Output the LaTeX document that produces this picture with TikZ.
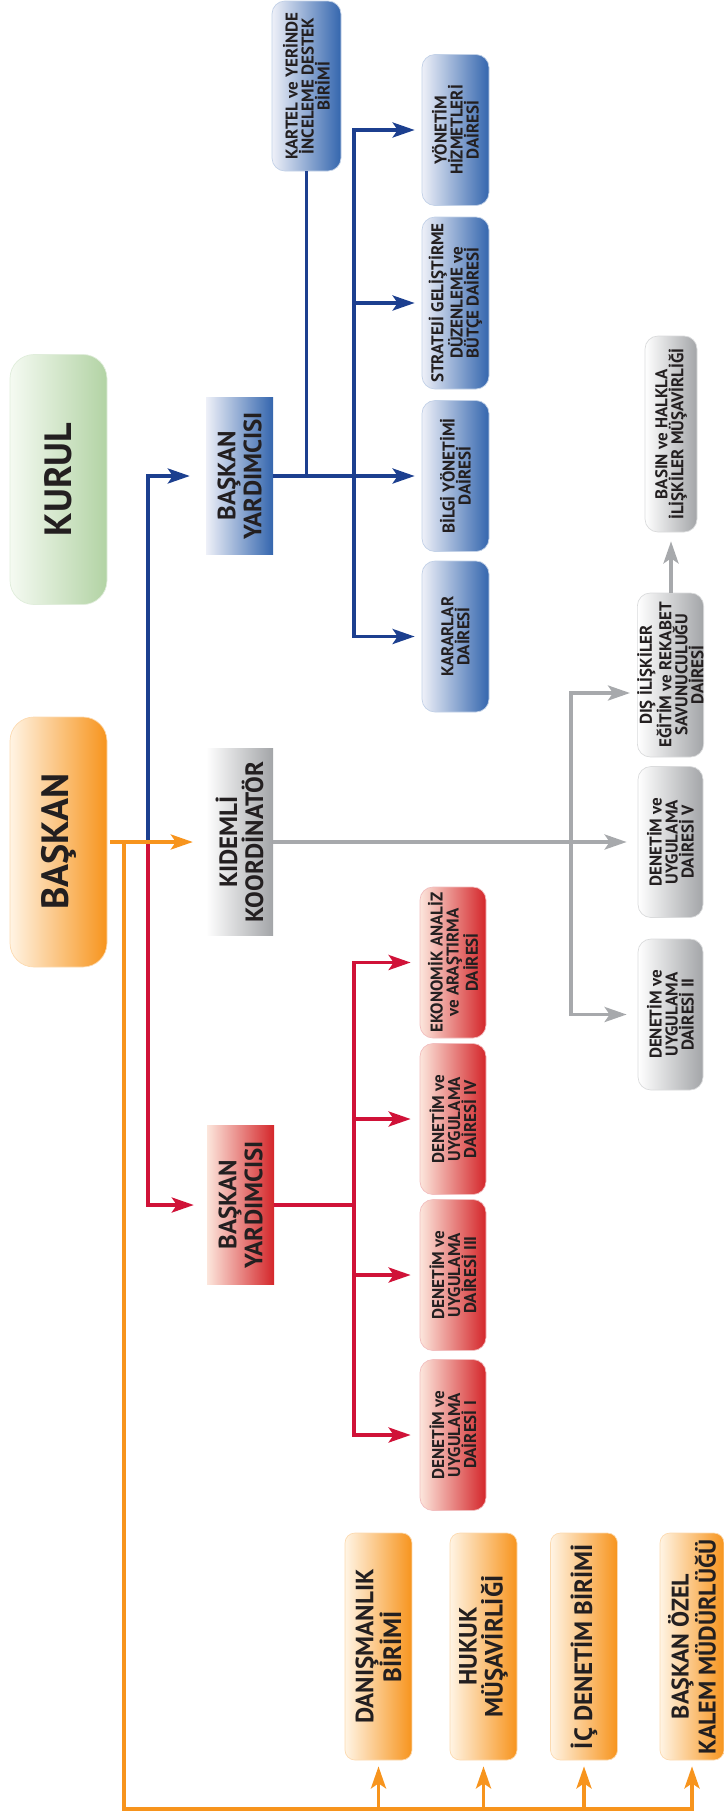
\documentclass[tikz,border=0pt]{standalone}
\usepackage{fontspec}
\setmainfont{PT Sans}
\usetikzlibrary{arrows.meta}

\definecolor{yazi}{HTML}{231F20}
\definecolor{turuncu}{HTML}{F7941D}
\definecolor{turuncuacik}{HTML}{FFF4E4}
\definecolor{mavi}{HTML}{1C3F8F}
\definecolor{mavikoyu}{HTML}{3466AE}
\definecolor{maviacik}{HTML}{EEF0F8}
\definecolor{kirmizi}{HTML}{D01238}
\definecolor{kirmizikoyu}{HTML}{D4262A}
\definecolor{kirmiziacik}{HTML}{FCE6DC}
\definecolor{gri}{HTML}{A7A9AC}
\definecolor{grikoyu}{HTML}{A3A5A8}
\definecolor{yesil}{HTML}{B2D3A4}
\definecolor{yesilacik}{HTML}{F5FAF2}

\newcommand{\buyukyazi}{\fontsize{38}{40}\selectfont\bfseries}
\newcommand{\ortayazi}{\fontsize{25}{26}\selectfont\bfseries}
\newcommand{\kucukyazi}{\fontsize{17}{16}\selectfont\bfseries}

\tikzset{
  cizgi/.style={line width=3.6pt},
  ok/.style={cizgi, -{Stealth[length=22pt,width=15pt,inset=5pt]}},
  kutu/.style={rotate=90, inner sep=0pt, align=center, text=yazi,
    rounded corners=13pt, line width=0.7pt},
  kucuk/.style={minimum width=151pt, minimum height=67pt, font=\kucukyazi},
  mavikutu/.style={kutu, kucuk, left color=maviacik, right color=mavikoyu, draw=mavikoyu!30},
  kirmizikutu/.style={kutu, kucuk, left color=kirmiziacik, right color=kirmizikoyu, draw=kirmizikoyu!30},
  grikutu/.style={kutu, kucuk, left color=white, right color=grikoyu, draw=grikoyu!40},
  turuncukutu/.style={kutu, rounded corners=10pt, minimum width=227pt, minimum height=67pt,
    font=\ortayazi, left color=turuncuacik, right color=turuncu, draw=turuncu!35},
  dikdortgen/.style={rotate=90, inner sep=0pt, align=center, text=yazi,
    minimum height=67pt, font=\ortayazi},
  buyukkutu/.style={kutu, rounded corners=24pt, minimum width=250pt, minimum height=97pt,
    font=\buyukyazi}
}

\begin{document}
\begin{tikzpicture}[x=1pt, y=-1pt]
\useasboundingbox (0,0) rectangle (723,1818);

% ust kademe
\node[buyukkutu, left color=yesilacik, right color=yesil, draw=yesil!40] (kurul) at (58.5,479.5) {KURUL};
\node[buyukkutu, left color=turuncuacik, right color=turuncu, draw=turuncu!35] (baskan) at (58.5,842) {BAŞKAN};

\node[dikdortgen, minimum width=157pt, left color=maviacik, right color=mavikoyu] (bymavi) at (239.5,476) {BAŞKAN\\YARDIMCISI};
\node[dikdortgen, minimum width=187pt, left color=white, right color=grikoyu] (kidemli) at (239.5,842) {KIDEMLİ\\KOORDİNATÖR};
\node[dikdortgen, minimum width=159pt, left color=kirmiziacik, right color=kirmizikoyu] (bykirmizi) at (240.5,1205) {BAŞKAN\\YARDIMCISI};

% mavi daireler
\node[mavikutu, minimum width=170pt, minimum height=69pt] (kartel) at (306.5,86) {KARTEL ve YERİNDE\\İNCELEME DESTEK\\BİRİMİ};
\node[mavikutu] (yonetim) at (455.5,130) {YÖNETİM\\HİZMETLERİ\\DAİRESİ};
\node[mavikutu, minimum width=172pt] (strateji) at (455.5,303) {STRATEJİ GELİŞTİRME\\DÜZENLEME ve\\BÜTÇE DAİRESİ};
\node[mavikutu] (bilgi) at (455.5,476) {BİLGİ YÖNETİMİ\\DAİRESİ};
\node[mavikutu] (kararlar) at (455.5,636.5) {KARARLAR\\DAİRESİ};

% gri daireler
\node[grikutu, minimum width=196pt, minimum height=52pt] (basin) at (671,434) {BASIN ve HALKLA\\İLİŞKİLER MÜŞAVİRLİĞİ};
\node[grikutu, minimum width=164pt, minimum height=65pt] (disil) at (670.5,675) {DIŞ İLİŞKİLER\\EĞİTİM ve REKABET\\SAVUNUCULUĞU\\DAİRESİ};
\node[grikutu, minimum height=65pt] (denv) at (670.5,842) {DENETİM ve\\UYGULAMA\\DAİRESİ V};
\node[grikutu, minimum height=65pt] (denii) at (670.5,1014.5) {DENETİM ve\\UYGULAMA\\DAİRESİ II};

% kirmizi daireler
\node[kirmizikutu, minimum height=66pt] (ekonomik) at (453,962.5) {EKONOMİK ANALİZ\\ve ARAŞTIRMA\\DAİRESİ};
\node[kirmizikutu, minimum height=66pt] (deniv) at (453,1119) {DENETİM ve\\UYGULAMA\\DAİRESİ IV};
\node[kirmizikutu, minimum height=66pt] (deniii) at (453,1275) {DENETİM ve\\UYGULAMA\\DAİRESİ III};
\node[kirmizikutu, minimum height=66pt] (deni) at (453,1435) {DENETİM ve\\UYGULAMA\\DAİRESİ I};

% baskana bagli birimler
\node[turuncukutu] (danisma) at (378.5,1646.5) {DANIŞMANLIK\\BİRİMİ};
\node[turuncukutu] (hukuk) at (483.5,1646.5) {HUKUK\\MÜŞAVİRLİĞİ};
\node[turuncukutu] (icdenetim) at (584,1646.5) {İÇ DENETİM BİRİMİ};
\node[turuncukutu, minimum height=64pt, font=\fontsize{24}{25}\selectfont\bfseries] (ozelkalem) at (692,1646.5) {BAŞKAN ÖZEL\\KALEM MÜDÜRLÜĞÜ};

\coordinate (sol) at (148,842);
\coordinate (sagkol) at (354,842);
\coordinate (grikol) at (571,693);
\coordinate (turuncukol) at (124,842);
\coordinate (turuncualt) at (124,1809);

% baskan yardimcilari
\draw[ok, mavi, shorten >=16pt] (sol) |- (bymavi.north);
\draw[ok, kirmizi, shorten >=13pt] (sol) |- (bykirmizi.north);

% mavi kol
\draw[cizgi, mavi] (kartel.west) -- (kartel.west |- bymavi);
\draw[cizgi, mavi] (bymavi.south) -- (bymavi -| sagkol);
\draw[ok, mavi, shorten >=7pt] (kararlar.north -| sagkol) |- (yonetim.north);
\draw[ok, mavi, shorten >=7pt] (yonetim.north -| sagkol) |- (kararlar.north);
\foreach \k in {strateji,bilgi}
  \draw[ok, mavi, shorten >=7pt] (\k.north -| sagkol) -- (\k.north);

% kirmizi kol
\draw[cizgi, kirmizi] (bykirmizi.south) -- (bykirmizi -| sagkol);
\draw[ok, kirmizi, shorten >=9pt] (deni.north -| sagkol) |- (ekonomik.north);
\draw[ok, kirmizi, shorten >=9pt] (ekonomik.north -| sagkol) |- (deni.north);
\foreach \k in {deniv,deniii}
  \draw[ok, kirmizi, shorten >=9pt] (\k.north -| sagkol) -- (\k.north);

% gri kol
\draw[ok, gri, shorten >=11pt] (kidemli.south) -- (denv.north);
\draw[ok, gri, shorten >=7pt] (grikol |- denii) |- (grikol -| disil.north);
\draw[ok, gri, shorten >=11pt] (grikol) |- (denii.north);
\draw[ok, gri, shorten >=9pt] (basin.west |- disil.east) -- (basin.west);

% turuncu kol
\draw[ok, turuncu, shorten <=3pt, shorten >=13pt] (baskan.south) -- (kidemli.north);
\draw[ok, turuncu, shorten >=6pt] (turuncukol) -- (turuncualt) -| (ozelkalem.west);
\foreach \k in {danisma,hukuk,icdenetim}
  \draw[ok, turuncu, shorten >=6pt] (\k.west |- turuncualt) -- (\k.west);
\end{tikzpicture}
\end{document}
